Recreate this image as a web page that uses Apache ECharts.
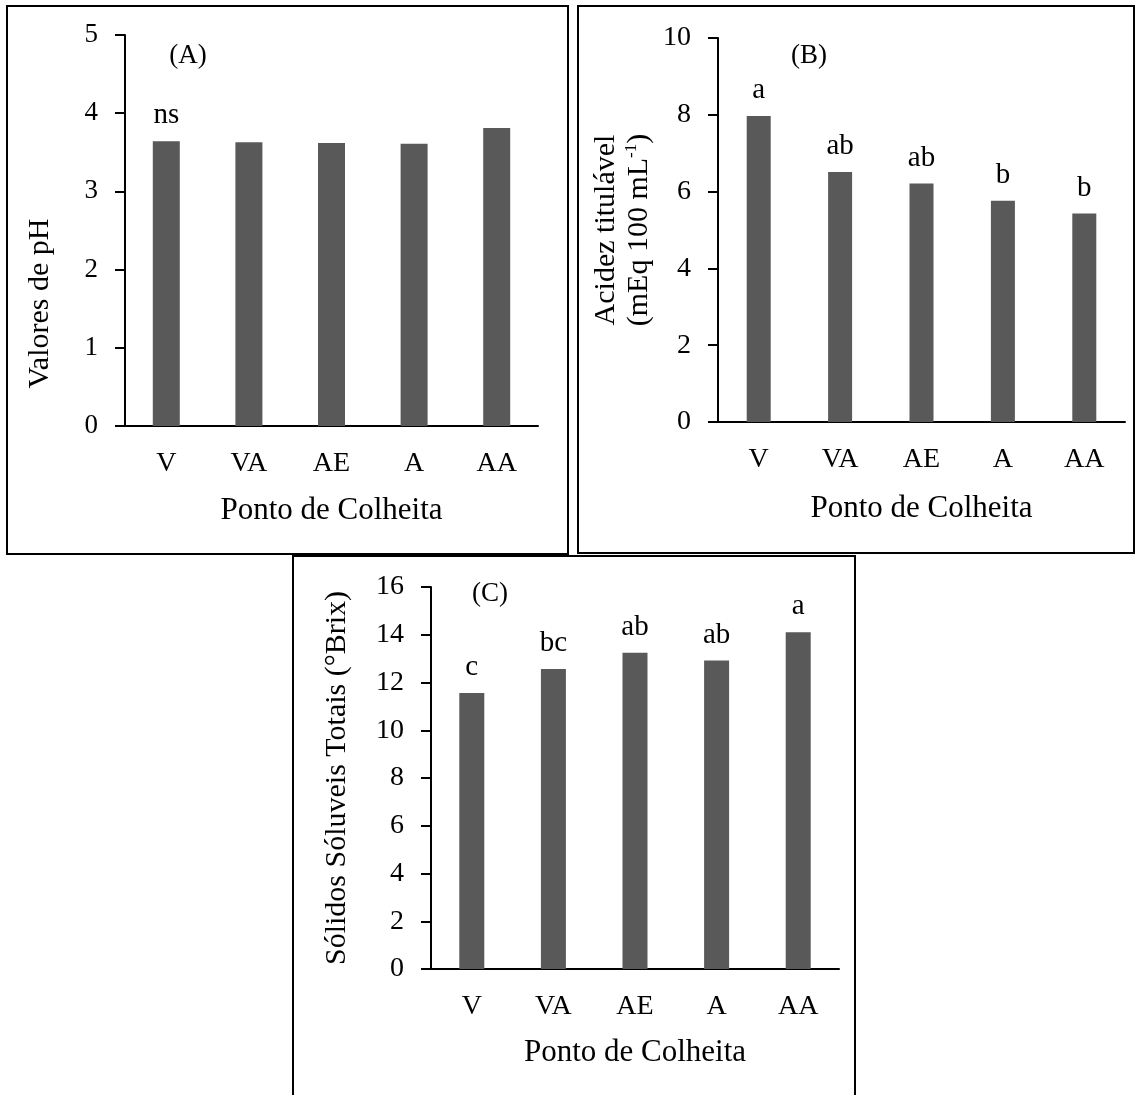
<!DOCTYPE html>
<html><head><meta charset="utf-8">
<script src="https://cdn.jsdelivr.net/npm/echarts@6/dist/echarts.min.js"></script>
<style>html,body{margin:0;padding:0;background:#fff}#c{width:1136px;height:1095px}</style>
</head><body><div id="c"></div>
<script>
// ---- data ----
const categories = ['V', 'VA', 'AE', 'A', 'AA'];
const phValues = [3.64, 3.63, 3.62, 3.61, 3.81];
const phLetters = ['ns', '', '', '', ''];
const acidValues = [7.97, 6.51, 6.21, 5.76, 5.43];
const acidLetters = ['a', 'ab', 'ab', 'b', 'b'];
const sstValues = [11.56, 12.57, 13.25, 12.92, 14.10];
const sstLetters = ['c', 'bc', 'ab', 'ab', 'a'];
const phTicks = [0, 1, 2, 3, 4, 5];
const acidTicks = [0, 2, 4, 6, 8, 10];
const sstTicks = [0, 2, 4, 6, 8, 10, 12, 14, 16];
const xTitle = 'Ponto de Colheita';
const phTitle = 'Valores de pH';
const acidTitle = 'Acidez titulável\n(mEq 100 mL{sup|-1})';
const sstTitle = 'Sólidos Sóluveis Totais (°Brix)';
const panelLabels = ['(A)', '(B)', '(C)'];

const FONT = '"Liberation Serif", "Times New Roman", serif';
const BAR = '#595959';
const chart = echarts.init(document.getElementById('c'), null, {renderer: 'canvas'});

function xAxis(gi, fs, gap, nameGap) {
  return {
    type: 'category', gridIndex: gi, data: categories,
    axisLine: {lineStyle: {color: '#000', width: 2}},
    axisTick: {show: false},
    axisLabel: {color: '#000', fontFamily: FONT, fontSize: fs, margin: gap},
    name: xTitle, nameLocation: 'middle', nameGap: nameGap,
    nameTextStyle: {color: '#000', fontFamily: FONT, fontSize: 31}
  };
}
function yAxis(gi, ticks, fs, name, nameGap, extra) {
  return Object.assign({
    type: 'value', gridIndex: gi,
    min: ticks[0], max: ticks[ticks.length - 1], interval: ticks[1] - ticks[0],
    splitLine: {show: false},
    axisLine: {show: true, lineStyle: {color: '#000', width: 2}},
    axisTick: {show: true, inside: false, length: 10, lineStyle: {color: '#000', width: 2}},
    axisLabel: {color: '#000', fontFamily: FONT, fontSize: fs, margin: 27},
    name: name, nameLocation: 'middle', nameGap: nameGap,
    nameTextStyle: {color: '#000', fontFamily: FONT, fontSize: 30}
  }, extra || {});
}
function bars(gi, values, letters, width) {
  return {
    type: 'bar', xAxisIndex: gi, yAxisIndex: gi, data: values, barWidth: width,
    itemStyle: {color: BAR},
    label: {show: true, position: 'top', distance: 11, color: '#000', fontFamily: FONT, fontSize: 29,
      formatter: p => letters[p.dataIndex]},
    silent: true
  };
}

const option = {
  backgroundColor: '#fff',
  animation: false,
  grid: [
    {left: 125, top: 35, width: 413, height: 391},
    {left: 718, top: 38, width: 407, height: 384},
    {left: 431, top: 587, width: 408, height: 382}
  ],
  xAxis: [xAxis(0, 28, 24, 69), xAxis(1, 28, 24, 71), xAxis(2, 28, 24, 68)],
  yAxis: [
    yAxis(0, phTicks, 27, phTitle, 70, {}),
    yAxis(1, acidTicks, 28, acidTitle, 62, {}),
    yAxis(2, sstTicks, 28, sstTitle, 79, {})
  ],
  series: [bars(0, phValues, phLetters, 27), bars(1, acidValues, acidLetters, 24), bars(2, sstValues, sstLetters, 25)],
  title: [
    {text: panelLabels[0], left: 188, top: 56, textAlign: 'center', textVerticalAlign: 'middle'},
    {text: panelLabels[1], left: 809, top: 56, textAlign: 'center', textVerticalAlign: 'middle'},
    {text: panelLabels[2], left: 490, top: 594, textAlign: 'center', textVerticalAlign: 'middle'}
  ].map(t => Object.assign({padding: 0, textStyle: {color: '#000', fontFamily: FONT, fontSize: 27, fontWeight: 'normal'}}, t)),
  graphic: [
    {type: 'rect', shape: {x: 7, y: 6, width: 561, height: 548}, style: {fill: 'none', stroke: '#000', lineWidth: 2}, silent: true},
    {type: 'rect', shape: {x: 578, y: 6, width: 556, height: 547}, style: {fill: 'none', stroke: '#000', lineWidth: 2}, silent: true},
    {type: 'rect', shape: {x: 293, y: 556, width: 562, height: 600}, style: {fill: 'none', stroke: '#000', lineWidth: 2}, silent: true}
  ]
};
// pH title sits lower than axis middle; shift via padding
option.yAxis[0].nameTextStyle.padding = [0, 146, 0, 0];
option.yAxis[1].nameTextStyle.lineHeight = 33;
option.yAxis[1].nameTextStyle.rich = {sup: {fontFamily: FONT, fontSize: 17, verticalAlign: 'top', padding: [0, 0, 12, 0], color: '#000', lineHeight: 33}};
chart.setOption(option);
</script></body></html>
